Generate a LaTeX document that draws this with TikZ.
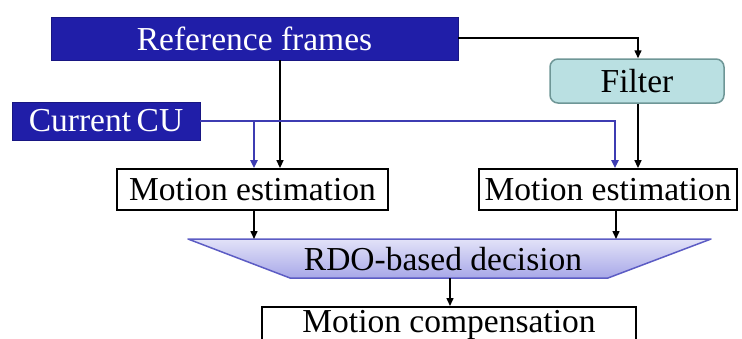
\documentclass[tikz,border=0pt]{standalone}
\usepackage{fontspec}
\setmainfont{Liberation Serif}
\usetikzlibrary{arrows.meta}
\definecolor{darkblue}{RGB}{32,30,168}
\definecolor{darkblueedge}{RGB}{24,22,130}
\definecolor{linkblue}{RGB}{62,60,178}
\definecolor{filterfill}{RGB}{186,224,226}
\definecolor{filteredge}{RGB}{110,150,150}
\definecolor{rdotop}{RGB}{226,226,248}
\definecolor{rdobot}{RGB}{168,168,232}
\definecolor{rdoedge}{RGB}{92,92,196}
\begin{document}
\begin{tikzpicture}[x=1pt,y=-1pt,
  lbl/.style={font=\fontsize{33.5}{36}\selectfont, inner sep=0pt},
  bluebox/.style={fill=darkblue, draw=darkblueedge, line width=0.8pt, text=white, inner sep=0pt, lbl},
  whitebox/.style={draw=black, line width=1.8pt, fill=white, inner sep=0pt, lbl},
  filterbox/.style={draw=filteredge, fill=filterfill, line width=1.5pt, rounded corners=8pt, inner sep=0pt, lbl},
  blk/.style={draw=black, line width=1.5pt, -{Triangle[length=8pt,width=7pt]}},
  blu/.style={draw=linkblue, line width=2.4pt, -{Triangle[length=8pt,width=7pt]}}
]
\useasboundingbox (0,0) rectangle (742,338);
\clip (0,0) rectangle (742,338);

\node[bluebox, minimum width=407pt, minimum height=43pt] (ref) at (254.5,38.5) {Reference frames};
\node[bluebox, minimum width=188pt, minimum height=38pt] (cu) at (106,121) {Current\,CU};
\node[filterbox, minimum width=174pt, minimum height=44pt] (filt) at (637,81) {Filter};
\node[whitebox, minimum width=271pt, minimum height=41pt] (mel) at (252.5,189.5) {Motion estimation};
\node[whitebox, minimum width=258pt, minimum height=41pt] (mer) at (608,189.5) {Motion estimation};

% RDO trapezoid
\coordinate (t1) at (188,239);
\coordinate (t2) at (711,239);
\coordinate (t3) at (608,278);
\coordinate (t4) at (290,278);
\shade[top color=rdotop, bottom color=rdobot] (t1) -- (t2) -- (t3) -- (t4) -- cycle;
\draw[rdoedge, line width=1.5pt, line join=round] (t1) -- (t2) -- (t3) -- (t4) -- cycle;
\node[lbl] (rdo) at (443,259) {RDO-based decision};
\coordinate (rdotopl) at (254,239);
\coordinate (rdotopr) at (616,239);
\coordinate (rdobot) at (450,278);

\node[whitebox, minimum width=374pt, minimum height=60pt, anchor=north] (mc) at (449,306) {};
\node[lbl, anchor=base] (mctext) at (449,332) {Motion compensation};

% connectors
\coordinate (cuj) at (254,121);
\coordinate (cur) at (615,121);
\coordinate (refr) at (638,38);
\draw[blk] (ref.south -| 280,0) -- (mel.north -| 280,0);
\draw[blk] (ref.east |- refr) -- (refr) -- (filt.north -| refr);
\draw[blk] (filt.south -| refr) -- (mer.north -| refr);
\draw[blu] (cu.east |- cuj) -- (cur) -- (mer.north -| cur);
\draw[blu] (cuj) -- (mel.north -| cuj);
\draw[blk] (mel.south -| rdotopl) -- (rdotopl);
\draw[blk] (mer.south -| rdotopr) -- (rdotopr);
\draw[blk] (rdobot) -- (mc.north -| rdobot);
\end{tikzpicture}
\end{document}
